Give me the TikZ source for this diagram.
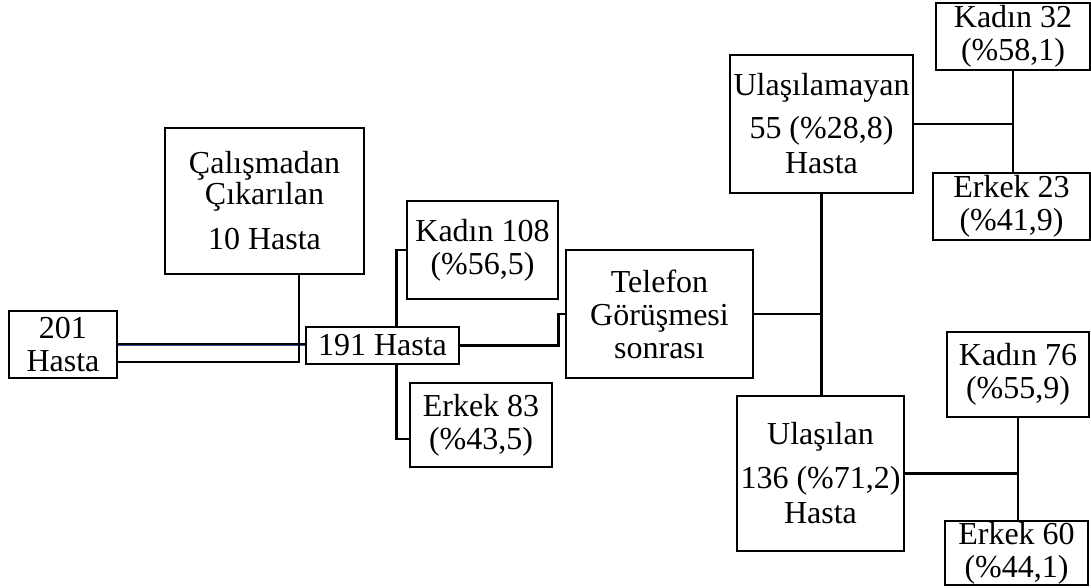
\documentclass[tikz,border=0pt]{standalone}
\usepackage{fontspec}
\setmainfont{Liberation Serif}
\usepackage{tikz}
\usetikzlibrary{positioning,calc,backgrounds}
\definecolor{linkblue}{HTML}{2F5597}

\begin{document}
\begin{tikzpicture}[x=1pt,y=-1pt,
  stage/.style={draw=black,fill=white,line width=2.6pt,inner sep=0pt,align=center,
    font=\fontsize{32}{33}\selectfont},
  link/.style={black,line width=2.6pt},
  hilite/.style={linkblue,line width=1pt}]
 \useasboundingbox (0,0) rectangle (1091,587);
 % left part
 \node[stage,minimum width=108pt,minimum height=67pt] (h201) at (63,344.5) {201\\Hasta};
 \node[stage,minimum width=199pt,minimum height=146pt] (exc) at (264.5,201)
   {Çalışmadan\\[-2pt]Çıkarılan\\[12pt]10 Hasta};
 \node[stage,minimum width=153pt,minimum height=37pt] (h191) at (382.5,345.5) {191 Hasta};
 \node[stage,minimum width=151pt,minimum height=98pt] (k108) at (482.5,250) {Kadın 108\\(\%56,5)};
 \node[stage,minimum width=142pt,minimum height=84pt] (e83) at (481,425) {Erkek 83\\(\%43,5)};
 % phone call
 \node[stage,minimum width=187pt,minimum height=128pt] (tel) at (659.5,314)
   {Telefon\\Görüşmesi\\sonrası};
 \node[stage,minimum width=183pt,minimum height=138pt] (ulm) at (821.5,124)
   {Ulaşılamayan\\[10pt]55 (\%28,8)\\[2pt]Hasta};
 \node[stage,minimum width=167pt,minimum height=155pt] (ul) at (820.5,473.5)
   {Ulaşılan\\[11pt]136 (\%71,2)\\[2pt]Hasta};
 \node[stage,minimum width=154pt,minimum height=67pt] (k32) at (1013,36.5) {Kadın 32\\(\%58,1)};
 \node[stage,minimum width=157pt,minimum height=67pt] (e23) at (1011.5,206.5) {Erkek 23\\(\%41,9)};
 \node[stage,minimum width=142pt,minimum height=85pt] (k76) at (1018,374.5) {Kadın 76\\(\%55,9)};
 \node[stage,minimum width=143pt,minimum height=64pt] (e60) at (1016.5,553) {Erkek 60\\(\%44,1)};
 \begin{scope}[on background layer]
  \draw[link] (h201.east) -- (h191.west |- h201.east);
  \draw[hilite] ([yshift=-1pt]h201.east) -- ([yshift=-1pt]h191.west |- h201.east);
  \draw[link] ([yshift=-17.5pt]h201.east) -| ([xshift=34.5pt]exc.south);
  \draw[link] (k108.west) -- ++(-9,0) |- ([yshift=-14pt]e83.west);
  \draw[link] (h191.east) -- ++(98,0) |- (tel.west);
  \draw[link] (tel.east) -- (tel.east -| ulm.south);
  \draw[link] (ulm.south) -- (ulm.south |- ul.north);
  \foreach \p/\k/\e in {ulm/k32/e23, ul/k76/e60}{
   \draw[link] (\p.east) -- (\p.east -| \k.south);
   \draw[link] (\k.south) -- (\k.south |- \e.north);
  }
 \end{scope}
\end{tikzpicture}
\end{document}
